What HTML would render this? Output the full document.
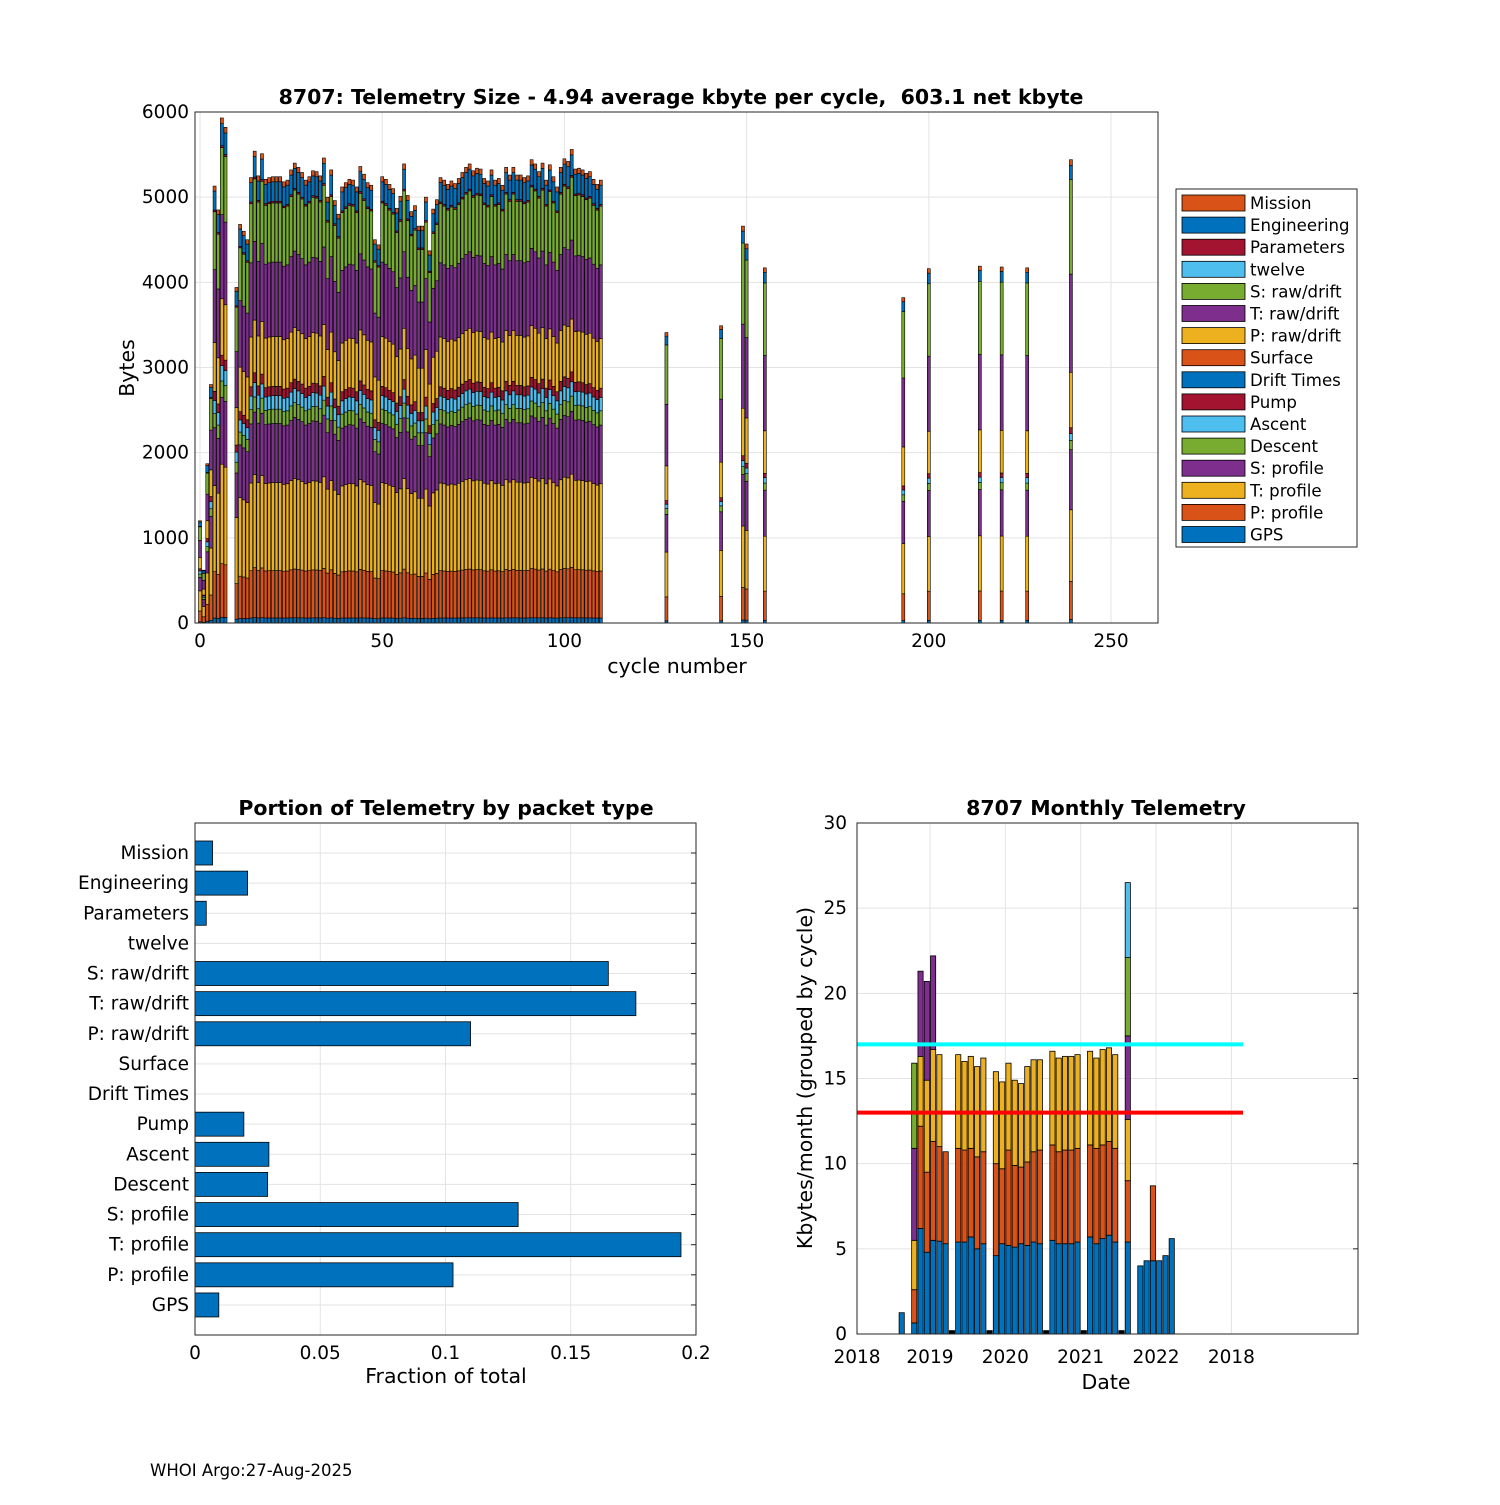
<!DOCTYPE html>
<html><head><meta charset="utf-8">
<style>
body{margin:0;background:#fff;font-family:"Liberation Sans","DejaVu Sans",sans-serif;}
svg text{font-family:"DejaVu Sans","Liberation Sans",sans-serif;white-space:pre;}
</style></head>
<body>
<svg id="fig" width="1500" height="1500" viewBox="0 0 1500 1500" xmlns="http://www.w3.org/2000/svg">
<rect width="1500" height="1500" fill="#fff"/>
<g id="top"></g>
<g id="bl"></g>
<g id="br"></g>
<text x="150" y="1476" font-size="16.5" fill="#000">WHOI Argo:27-Aug-2025</text>
</svg>
<script>
// ---------- data ----------
const C={blue:'#0072BD',orange:'#D95319',yellow:'#EDB120',purple:'#7E2F8E',green:'#77AC30',lblue:'#4DBEEE',red:'#A2142F'};
const stackNames=['GPS','P: profile','T: profile','S: profile','Descent','Ascent','Pump','Drift Times','Surface','P: raw/drift','T: raw/drift','S: raw/drift','twelve','Parameters','Engineering','Mission'];
const stackColors=[C.blue,C.orange,C.yellow,C.purple,C.green,C.lblue,C.red,C.blue,C.orange,C.yellow,C.purple,C.green,C.lblue,C.red,C.blue,C.orange];
const compFull=[60,560,1040,700,170,160,110,0,0,590,880,700,0,20,230,60];
const compSparse=[30,330,620,520,80,60,50,0,0,480,850,820,0,0,120,50];
const earlyCycles=[0,1,2,3,4,5,6,7];
const earlyTotals=[1200,620,1870,2800,5130,4850,5930,5820];
const mainStart=10;
const mainTotals=[3940,4680,4600,4500,5230,5540,5250,5510,5210,5230,5240,5240,5240,5180,5200,5320,5400,5350,5290,5200,5240,5310,5300,5250,5460,5000,5320,4960,4800,5120,5170,5210,5200,5120,5360,5270,5170,5140,4500,4440,5240,5210,5150,5100,4870,5010,5390,5020,4830,4900,4660,4660,5000,4370,4860,4970,5230,5200,5150,5190,5160,5220,5290,5350,5390,5310,5340,5330,5220,5190,5320,5200,5220,5140,5350,5260,5350,5260,5260,5230,5250,5440,5390,5300,5400,5200,5380,5240,5120,5350,5450,5420,5560,5330,5340,5320,5280,5300,5210,5150,5200];
const sparseCycles=[128,143,149,150,155,193,200,214,220,227,239];
const sparseTotals=[3410,3490,4660,4450,4170,3820,4160,4190,4180,4170,5440];
const yTicksTop=[0,1000,2000,3000,4000,5000,6000];
const xTicksTop=[0,50,100,150,200,250];

const portionCats=['Mission','Engineering','Parameters','twelve','S: raw/drift','T: raw/drift','P: raw/drift','Surface','Drift Times','Pump','Ascent','Descent','S: profile','T: profile','P: profile','GPS'];
const portionVals=[0.007,0.021,0.0045,0,0.165,0.176,0.110,0,0,0.0195,0.0295,0.029,0.129,0.194,0.103,0.0095];
const xTicksPortion=[0,0.05,0.1,0.15,0.2];
const xTickLabelsPortion=['0','0.05','0.1','0.15','0.2'];

const monthIdx=[7,9,10,11,12,13,14,15,16,17,18,19,20,21,22,23,24,25,26,27,28,29,30,31,32,33,34,35,36,37,38,39,40,41,42,43,45,46,47,48,49,50];
const mBlue  =[1.25,0.65,6.2,4.8,5.5,5.45,5.3,0,5.4,5.4,5.7,5.0,5.3,0,4.6,5.3,5.2,5.1,5.3,5.2,5.4,5.3,0,5.5,5.3,5.3,5.3,5.4,0,5.7,5.3,5.6,5.8,5.4,0,5.4,4.0,4.3,4.3,4.3,4.6,5.6];
const mOrange=[0,1.95,6.0,4.7,5.8,5.55,5.4,0,5.5,5.4,5.2,5.4,5.4,0,5.4,4.4,5.6,4.8,4.5,4.9,5.3,5.5,0,5.6,5.4,5.5,5.5,5.5,0,5.4,5.6,5.5,5.5,5.5,0,3.6,0,0,4.4,0,0,0];
const mYellow=[0,2.9,4.1,5.4,5.4,5.4,0,0,5.5,5.2,5.4,5.3,5.5,0,5.4,5.1,5.1,5.0,4.9,5.6,5.4,5.3,0,5.5,5.5,5.5,5.5,5.5,0,5.5,5.3,5.6,5.5,5.5,0,3.6,0,0,0,0,0,0];
const mPurple=[0,5.4,5.0,5.8,5.5,0,0,0,0,0,0,0,0,0,0,0,0,0,0,0,0,0,0,0,0,0,0,0,0,0,0,0,0,0,0,4.9,0,0,0,0,0,0];
const mGreen =[0,5.0,0,0,0,0,0,0,0,0,0,0,0,0,0,0,0,0,0,0,0,0,0,0,0,0,0,0,0,0,0,0,0,0,0,4.6,0,0,0,0,0,0];
const mLblue =[0,0,0,0,0,0,0,0,0,0,0,0,0,0,0,0,0,0,0,0,0,0,0,0,0,0,0,0,0,0,0,0,0,0,0,4.4,0,0,0,0,0,0];
const mBlack =[0,0,0,0,0,0,0,0.2,0,0,0,0,0,0.2,0,0,0,0,0,0,0,0,0.2,0,0,0,0,0,0.2,0,0,0,0,0,0.2,0,0,0,0,0,0,0];
const yTicksMonthly=[0,5,10,15,20,25,30];
const yearTicks=[0,12,24,36,48,60];
const yearLabels=['2018','2019','2020','2021','2022','2018'];
const refCyan=17.0, refRed=13.0;

// ---------- helpers ----------
const NS='http://www.w3.org/2000/svg';
const FS=18.5;
function mk(parent,tag,attrs,text){const e=document.createElementNS(NS,tag);for(const k in attrs)e.setAttribute(k,attrs[k]);if(text!==undefined)e.textContent=text;parent.appendChild(e);return e;}

// ---------- top chart ----------
(function(){
const g=document.getElementById('top');
const L=195,R=1158,T=112,B=623;
const xs=c=>200+c*3.644, ys=v=>B-(v/6000)*(B-T);
mk(g,'rect',{x:L,y:T,width:R-L,height:B-T,fill:'#fff'});
yTicksTop.forEach(v=>{mk(g,'line',{x1:L,x2:R,y1:ys(v),y2:ys(v),stroke:'#e3e3e3','stroke-width':1});
 const t=mk(g,'text',{x:L-6,y:ys(v)+6,'font-size':FS,'text-anchor':'end'},String(v));
 });
xTicksTop.forEach(v=>{mk(g,'line',{x1:xs(v),x2:xs(v),y1:T,y2:B,stroke:'#e3e3e3','stroke-width':1});
 const t=mk(g,'text',{x:xs(v),y:B+24,'font-size':FS,'text-anchor':'middle'},String(v));
 });
function bar(c,total,comp){
 const s=comp.reduce((a,b)=>a+b,0);let acc=0;
 const bg=mk(g,'g',{});
 
 
 comp.forEach((p,i)=>{if(p<=0)return;const v=p*total/s;
  const r=mk(bg,'rect',{x:xs(c)-1.5,y:ys(acc+v),width:3,height:ys(acc)-ys(acc+v),fill:stackColors[i],stroke:'#000','stroke-width':0.6});
  
  
  acc+=v;});
}
earlyCycles.forEach((c,i)=>bar(c,earlyTotals[i],compFull));
for(let i=0;i<101&&i<mainTotals.length;i++)bar(mainStart+i,mainTotals[i],compFull);
sparseCycles.forEach((c,i)=>bar(c,sparseTotals[i],compSparse));
mk(g,'rect',{x:L,y:T,width:R-L,height:B-T,fill:'none',stroke:'#262626','stroke-width':1});
let t=mk(g,'text',{x:681,y:104,'font-size':20.5,'font-weight':'bold','text-anchor':'middle'},'8707: Telemetry Size - 4.94 average kbyte per cycle,  603.1 net kbyte');

t=mk(g,'text',{x:677,y:673,'font-size':20.5,'text-anchor':'middle'},'cycle number');

t=mk(g,'text',{x:0,y:0,'font-size':20.5,'text-anchor':'middle',transform:'translate(134,368) rotate(-90)'},'Bytes');

// legend
const lg=mk(g,'g',{});

mk(lg,'rect',{x:1176,y:189,width:181,height:358,fill:'#fff',stroke:'#262626','stroke-width':1});
const order=[15,14,13,12,11,10,9,8,7,6,5,4,3,2,1,0];
order.forEach((idx,k)=>{const y=203+k*22.1;
 const e=mk(lg,'g',{});
 
 mk(e,'rect',{x:1182,y:y-8,width:63,height:16,fill:stackColors[idx],stroke:'#000','stroke-width':0.8});
 mk(e,'text',{x:1250,y:y+6,'font-size':16.6},stackNames[idx]);});
})();

// ---------- bottom-left ----------
(function(){
const g=document.getElementById('bl');
const L=195,R=696,T=823,B=1335;
const xs=v=>L+v/0.2*(R-L), ys=i=>853+i*30.13;
xTicksPortion.forEach((v,i)=>{mk(g,'line',{x1:xs(v),x2:xs(v),y1:T,y2:B,stroke:'#e3e3e3'});
 const t=mk(g,'text',{x:xs(v),y:B+24,'font-size':FS,'text-anchor':'middle'},xTickLabelsPortion[i]);
 });
portionCats.forEach((c,i)=>{mk(g,'line',{x1:L,x2:R,y1:ys(i),y2:ys(i),stroke:'#e3e3e3'});
 mk(g,'line',{x1:R-5,x2:R,y1:ys(i),y2:ys(i),stroke:'#262626'});
 const t=mk(g,'text',{x:L-6,y:ys(i)+6,'font-size':FS,'text-anchor':'end'},c);
 
 if(portionVals[i]>0){const r=mk(g,'rect',{x:L,y:ys(i)-12,width:xs(portionVals[i])-L,height:24,fill:C.blue,stroke:'#000','stroke-width':0.8});
 }
});
mk(g,'rect',{x:L,y:T,width:R-L,height:B-T,fill:'none',stroke:'#262626'});
let t=mk(g,'text',{x:446,y:815,'font-size':20.5,'font-weight':'bold','text-anchor':'middle'},'Portion of Telemetry by packet type');

t=mk(g,'text',{x:446,y:1383,'font-size':20.5,'text-anchor':'middle'},'Fraction of total');

})();

// ---------- bottom-right ----------
(function(){
const g=document.getElementById('br');
const L=857,R=1358,T=823,B=1334;
const xs=m=>854.6+m*6.28, ys=v=>B-v/30*(B-T);
yTicksMonthly.forEach(v=>{mk(g,'line',{x1:L,x2:R,y1:ys(v),y2:ys(v),stroke:'#e3e3e3'});
 mk(g,'line',{x1:R-5,x2:R,y1:ys(v),y2:ys(v),stroke:'#262626'});
 const t=mk(g,'text',{x:L-10,y:ys(v)+6,'font-size':FS,'text-anchor':'end'},String(v));
 });
yearTicks.forEach((m,i)=>{const x=Math.max(xs(m),L);
 mk(g,'line',{x1:x,x2:x,y1:T,y2:B,stroke:'#e3e3e3'});
 const t=mk(g,'text',{x:x,y:B+29,'font-size':FS,'text-anchor':'middle'},yearLabels[i]);
 });
const layers=[[mBlue,C.blue],[mOrange,C.orange],[mYellow,C.yellow],[mPurple,C.purple],[mGreen,C.green],[mLblue,C.lblue],[mBlack,'#000']];
monthIdx.forEach((m,i)=>{let acc=0;const cx=xs(m+0.5);
 layers.forEach(([arr,col])=>{const v=arr[i];if(!v)return;
  const r=mk(g,'rect',{x:cx-2.6,y:ys(acc+v),width:5.2,height:ys(acc)-ys(acc+v),fill:col,stroke:'#000','stroke-width':0.8});
  
  acc+=v;});});
let l=mk(g,'line',{x1:L,x2:1243,y1:ys(refCyan),y2:ys(refCyan),stroke:'#00FFFF','stroke-width':4});

l=mk(g,'line',{x1:L,x2:1243,y1:ys(refRed),y2:ys(refRed),stroke:'#FF0000','stroke-width':4});

mk(g,'rect',{x:L,y:T,width:R-L,height:B-T,fill:'none',stroke:'#262626'});
let t=mk(g,'text',{x:1106,y:815,'font-size':20.5,'font-weight':'bold','text-anchor':'middle'},'8707 Monthly Telemetry');

t=mk(g,'text',{x:1106,y:1389,'font-size':20.5,'text-anchor':'middle'},'Date');

t=mk(g,'text',{x:0,y:0,'font-size':20.5,'text-anchor':'middle',transform:'translate(812,1078) rotate(-90)'},'Kbytes/month (grouped by cycle)');

})();
</script>
</body></html>
